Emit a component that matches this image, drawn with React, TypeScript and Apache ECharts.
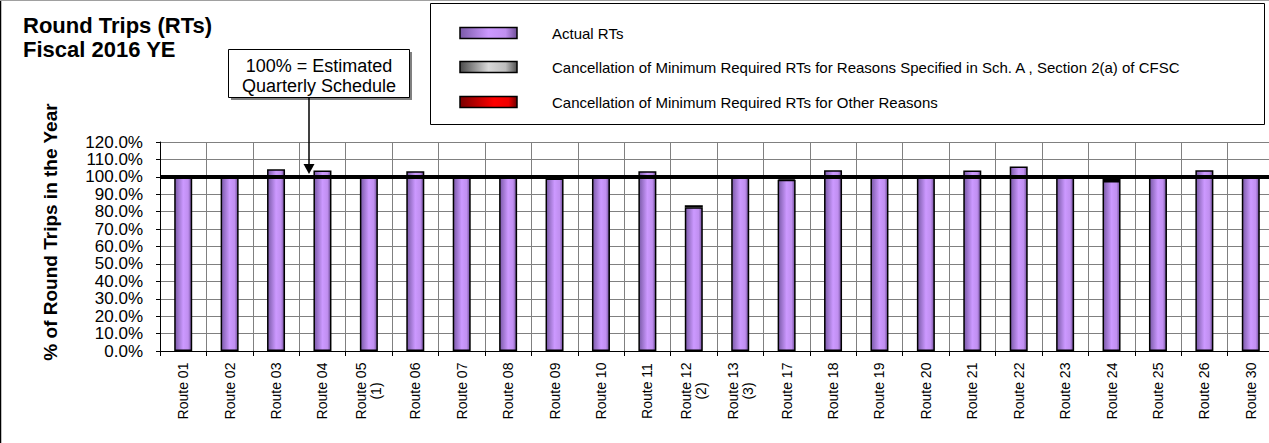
import React, { useEffect, useRef } from "react";
import * as echarts from "echarts";

const categories = [
  "Route 01", "Route 02", "Route 03", "Route 04", "Route 05\n(1)", "Route 06",
  "Route 07", "Route 08", "Route 09", "Route 10", "Route 11", "Route 12\n(2)",
  "Route 13\n(3)", "Route 17", "Route 18", "Route 19", "Route 20", "Route 21",
  "Route 22", "Route 23", "Route 24", "Route 25", "Route 26", "Route 30",
];
const actualRTs = [
  100, 100, 104.4, 103.6, 100, 103.2, 100, 100, 99.0, 100, 103.2, 82.5,
  100.2, 98.3, 103.8, 100, 100, 103.6, 105.9, 100, 97.6, 100, 103.8, 100,
];
const cancelSpecified = [
  0, 0, 0, 0, 0, 0, 0, 0, 0, 0, 0, 1.2,
  0.5, 0.8, 0, 0, 0, 0, 0, 0, 1.5, 0, 0, 0,
];
const cancelOther = [
  0, 0, 0, 0, 0, 0, 0, 0, 0, 0, 0, 0,
  0, 0, 0, 0, 0, 0, 0, 0, 0, 0, 0, 0,
];
const yTicks = { min: 0, max: 120, interval: 10 };
const legendNames = [
  "Actual RTs",
  "Cancellation of Minimum Required RTs for Reasons Specified in Sch. A , Section 2(a) of CFSC",
  "Cancellation of Minimum Required RTs for Other Reasons",
];

const FONT = 'Arial, "Liberation Sans", sans-serif';

const purpleGrad = () =>
  new echarts.graphic.LinearGradient(0, 0, 1, 0, [
    { offset: 0, color: "#7a5aa8" },
    { offset: 0.5, color: "#cc99ff" },
    { offset: 0.8, color: "#c08ff0" },
    { offset: 1, color: "#6f4f99" },
  ]);
const grayGrad = () =>
  new echarts.graphic.LinearGradient(0, 0, 1, 0, [
    { offset: 0, color: "#4a4a4a" },
    { offset: 0.5, color: "#d8d8d8" },
    { offset: 0.8, color: "#bdbdbd" },
    { offset: 1, color: "#505050" },
  ]);
const redGrad = () =>
  new echarts.graphic.LinearGradient(0, 0, 1, 0, [
    { offset: 0, color: "#7a0000" },
    { offset: 0.6, color: "#ff0000" },
    { offset: 0.85, color: "#f00000" },
    { offset: 1, color: "#700000" },
  ]);

const nz = (arr: number[]) => arr.map((v) => (v === 0 ? null : v));

export default function App() {
  const ref = useRef<HTMLDivElement>(null);
  useEffect(() => {
    if (!ref.current) return;
    const chart = echarts.init(ref.current, undefined, { renderer: "svg" });
    const barCommon = {
      type: "bar" as const,
      stack: "rt",
      barWidth: 18,
      silent: true,
      emphasis: { disabled: true },
    };
    const grads = [purpleGrad, grayGrad, redGrad];
    const legendRows = [33, 67, 102];
    const legendGraphics: any[] = [];
    legendNames.forEach((name, i) => {
      legendGraphics.push({
        type: "rect",
        shape: { x: 460, y: legendRows[i] - 5.5, width: 57, height: 11 },
        style: { fill: grads[i](), stroke: "#000", lineWidth: 1.5 },
      });
      legendGraphics.push({
        type: "text",
        x: 552,
        y: legendRows[i],
        style: {
          text: name,
          font: `15px ${FONT}`,
          fill: "#000",
          verticalAlign: "middle",
          align: "left",
        },
      });
    });

    chart.setOption({
      animation: false,
      backgroundColor: "#fff",
      grid: {
        left: 160,
        top: 142,
        right: -5,
        bottom: 92,
        containLabel: false,
        outerBoundsMode: "none",
      },
      xAxis: {
        type: "category",
        data: categories,
        axisLine: { lineStyle: { color: "#000", width: 1 } },
        axisTick: { show: true, length: 5, alignWithLabel: false, lineStyle: { color: "#000" } },
        splitLine: { show: true, lineStyle: { color: "#808080", width: 1 } },
        axisLabel: {
          rotate: 90,
          align: "center",
          verticalAlign: "middle",
          margin: 40,
          fontSize: 14,
          fontFamily: FONT,
          color: "#000",
          lineHeight: 15,
          interval: 0,
        },
      },
      yAxis: {
        type: "value",
        min: yTicks.min,
        max: yTicks.max,
        interval: yTicks.interval,
        axisLine: { show: true, lineStyle: { color: "#000", width: 1 } },
        axisTick: { show: true, length: 4, lineStyle: { color: "#000" } },
        splitLine: { show: true, lineStyle: { color: "#808080", width: 1 } },
        axisLabel: {
          fontSize: 17,
          lineHeight: 17,
          fontFamily: FONT,
          color: "#000",
          margin: 17,
          showMinLabel: true,
          showMaxLabel: true,
          hideOverlap: false,
          formatter: (v: number) => `${v.toFixed(1)}%`,
        },
      },
      series: [
        {
          ...barCommon,
          name: legendNames[0],
          data: nz(actualRTs),
          itemStyle: { color: purpleGrad(), borderColor: "#000", borderWidth: 1.5 },
        },
        {
          ...barCommon,
          name: legendNames[1],
          data: nz(cancelSpecified),
          itemStyle: { color: grayGrad(), borderColor: "#000", borderWidth: 1.5 },
        },
        {
          ...barCommon,
          name: legendNames[2],
          data: nz(cancelOther),
          itemStyle: { color: redGrad(), borderColor: "#000", borderWidth: 1.5 },
          markLine: {
            silent: true,
            symbol: ["none", "none"],
            label: { show: false },
            lineStyle: { color: "#000", width: 4, type: "solid" },
            data: [{ yAxis: 100 }],
          },
        },
      ],
      graphic: [
        { type: "line", shape: { x1: 0.5, y1: 0, x2: 0.5, y2: 443 }, style: { stroke: "#000", lineWidth: 1.5 } },
        { type: "line", shape: { x1: 0, y1: 0.5, x2: 1269, y2: 0.5 }, style: { stroke: "#a0a0a0", lineWidth: 1 } },
        {
          type: "text",
          x: 23,
          y: 25,
          style: { text: "Round Trips (RTs)", font: `bold 22px ${FONT}`, fill: "#000", verticalAlign: "middle" },
        },
        {
          type: "text",
          x: 23,
          y: 49,
          style: { text: "Fiscal 2016 YE", font: `bold 22px ${FONT}`, fill: "#000", verticalAlign: "middle" },
        },
        {
          type: "rect",
          shape: { x: 430.5, y: 3.5, width: 834, height: 121 },
          style: { fill: "#fff", stroke: "#000", lineWidth: 1 },
        },
        ...legendGraphics,
        {
          type: "rect",
          shape: { x: 231, y: 52, width: 181, height: 48 },
          style: { fill: "#808080" },
        },
        {
          type: "rect",
          shape: { x: 228.5, y: 49.5, width: 181, height: 48 },
          style: { fill: "#fff", stroke: "#000", lineWidth: 1 },
        },
        {
          type: "text",
          x: 319,
          y: 75.5,
          style: {
            text: "100% = Estimated\nQuarterly Schedule",
            font: `18px ${FONT}`,
            lineHeight: 20,
            fill: "#000",
            align: "center",
            verticalAlign: "middle",
          },
        },
        { type: "line", shape: { x1: 309, y1: 97.5, x2: 309, y2: 166 }, style: { stroke: "#000", lineWidth: 1.5 }, z: 100 },
        {
          type: "polygon",
          shape: { points: [[303.5, 164], [314.5, 164], [309, 174]] },
          style: { fill: "#000" },
          z: 100,
        },
        {
          type: "text",
          x: 50,
          y: 232,
          rotation: Math.PI / 2,
          style: {
            text: "% of Round Trips in the Year",
            font: `bold 19px ${FONT}`,
            fill: "#000",
            align: "center",
            verticalAlign: "middle",
          },
        },
      ],
    });
    return () => chart.dispose();
  }, []);
  return (
    <div
      ref={ref}
      style={{ position: "fixed", left: 0, top: 0, width: 1269, height: 443 }}
    />
  );
}
